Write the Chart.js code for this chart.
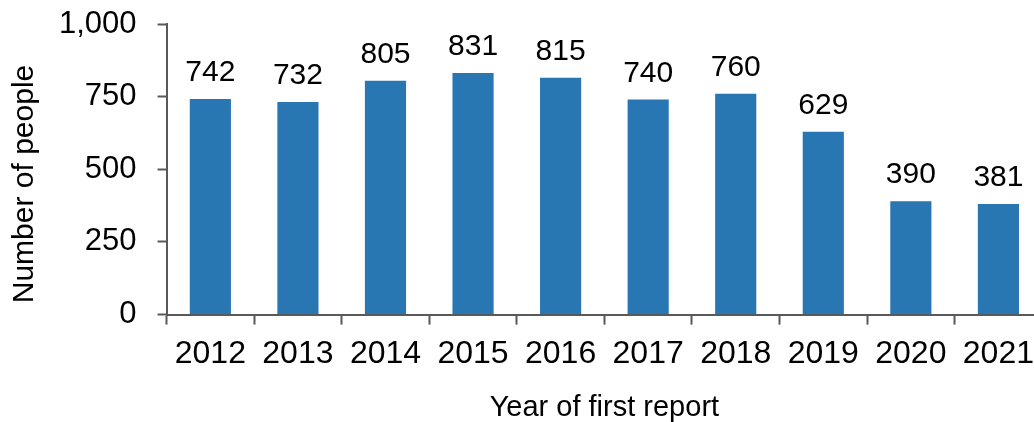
<!DOCTYPE html>
<html>
<head>
<meta charset="utf-8">
<script src="https://cdn.jsdelivr.net/npm/chart.js@4"></script>
<style>
    html, body { margin: 0; padding: 0; background: #fff; overflow: hidden; }
    #wrap { width: 1044px; height: 422px; }
</style>
</head>
<body>
<div id="wrap"><canvas id="peopleChart" width="1044" height="422"></canvas></div>
<script>
const years = ["2012", "2013", "2014", "2015", "2016", "2017", "2018", "2019", "2020", "2021"];
const people = [742, 732, 805, 831, 815, 740, 760, 629, 390, 381];
const yTicks = [0, 250, 500, 750, 1000];

const FONT = "'Liberation Sans', Arial, sans-serif";
const AXIS_GREY = "#595959";

// value labels above each bar
const barLabels = {
    id: "barLabels",
    afterDatasetsDraw(chart) {
        const ctx = chart.ctx;
        const meta = chart.getDatasetMeta(0);
        ctx.save();
        ctx.font = "30px " + FONT;
        ctx.fillStyle = "#000";
        ctx.textAlign = "center";
        ctx.textBaseline = "alphabetic";
        meta.data.forEach((bar, i) => {
            ctx.fillText(people[i], bar.x, bar.y - 18);
        });
        ctx.restore();
    },
};

// y axis title, placed a little below the centre like the original
const yTitle = {
    id: "yTitle",
    afterDraw(chart) {
        const ctx = chart.ctx;
        ctx.save();
        ctx.translate(25, 184);
        ctx.rotate(-Math.PI / 2);
        ctx.font = "30px " + FONT;
        ctx.fillStyle = "#000";
        ctx.textAlign = "center";
        ctx.textBaseline = "middle";
        ctx.fillText("Number of people", 0, 0);
        ctx.restore();
    },
};

new Chart(document.getElementById("peopleChart").getContext("2d"), {
    type: "bar",
    data: {
        labels: years,
        datasets: [
            {
                data: people,
                backgroundColor: "#2876B2",
                barPercentage: 0.47,
                categoryPercentage: 1,
            },
        ],
    },
    options: {
        responsive: false,
        animation: false,
        layout: { padding: { top: 24, left: 38, right: 0, bottom: 0 } },
        plugins: {
            legend: { display: false },
            tooltip: { enabled: false },
        },
        scales: {
            x: {
                offset: true,
                border: { color: AXIS_GREY, width: 2 },
                grid: {
                    offset: true,
                    drawOnChartArea: false,
                    tickLength: 10,
                    tickWidth: 2,
                    tickColor: AXIS_GREY,
                },
                ticks: {
                    color: "#000",
                    padding: 10,
                    maxRotation: 0,
                    autoSkip: false,
                    font: { family: FONT, size: 32 },
                },
                title: {
                    display: true,
                    text: "Year of first report",
                    color: "#000",
                    padding: { top: 10, bottom: 0 },
                    font: { family: FONT, size: 29, lineHeight: 1 },
                },
            },
            y: {
                min: 0,
                max: 1000,
                afterBuildTicks(axis) {
                    axis.ticks = yTicks.map((v) => ({ value: v }));
                },
                // tick padding would otherwise push the plot top down
                afterFit(axis) {
                    axis.paddingTop = 0;
                    axis.paddingBottom = 0;
                },
                border: { color: AXIS_GREY, width: 2 },
                grid: {
                    drawOnChartArea: false,
                    tickLength: 9,
                    tickWidth: 2,
                    tickColor: AXIS_GREY,
                },
                ticks: {
                    color: "#000",
                    padding: 21,
                    font: { family: FONT, size: 31 },
                    callback: (v) => v.toLocaleString("en-US"),
                },
            },
        },
    },
    plugins: [barLabels, yTitle],
});
</script>
</body>
</html>
